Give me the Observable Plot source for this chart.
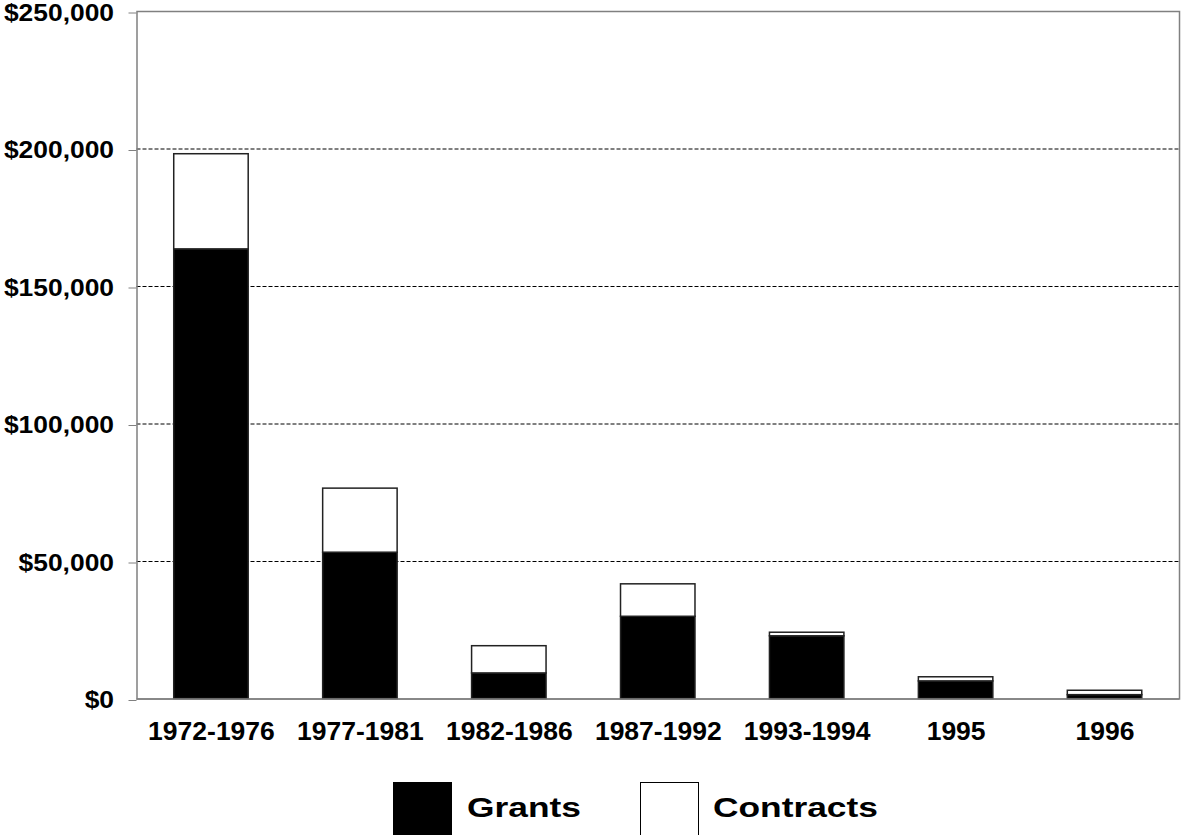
<!DOCTYPE html>
<html>
<head>
<meta charset="utf-8">
<script src="https://cdn.jsdelivr.net/npm/d3@7"></script>
<script src="https://cdn.jsdelivr.net/npm/@observablehq/plot@0.6"></script>
<style>
  html, body { margin: 0; padding: 0; background: #fff; overflow: hidden; }
  body { width: 1181px; height: 835px; font-family: "Liberation Sans", Arial, sans-serif; font-weight: bold; }
  #legend { position: relative; width: 1181px; height: 65px; }
  .sw { position: absolute; top: 12px; width: 59px; height: 59px; box-sizing: border-box; }
  .lt { position: absolute; top: 22px; font-size: 28.5px; line-height: 30px; color: #000; transform: scaleX(1.24); transform-origin: left center; white-space: nowrap; }
</style>
</head>
<body>
<div id="chart"></div>
<div id="legend">
  <div class="sw" style="left:393px; background:#000;"></div>
  <div class="lt" style="left:467px;">Grants</div>
  <div class="sw" style="left:640px; background:#fff; border:1px solid #000;"></div>
  <div class="lt" style="left:713px;">Contracts</div>
</div>
<script>
const periods = ["1972-1976", "1977-1981", "1982-1986", "1987-1992", "1993-1994", "1995", "1996"];
const grants = [163500, 53200, 9300, 29900, 22800, 6400, 1400];
const contracts = [34600, 23300, 9900, 11800, 1300, 1500, 1600];
const seriesNames = ["Grants", "Contracts"];
const yTicks = [0, 50000, 100000, 150000, 200000, 250000];
const gridTicks = [50000, 100000, 150000, 200000];

const table = [];
periods.forEach((p, i) => {
  table.push({period: p, series: "Grants", value: grants[i]});
  table.push({period: p, series: "Contracts", value: contracts[i]});
});

const fmt = d3.format("$,");

const chart = Plot.plot({
  width: 1181,
  height: 770,
  marginLeft: 136.5,
  marginRight: 2,
  marginTop: 11,
  marginBottom: 71.5,
  style: {fontFamily: "'Liberation Sans', Arial, sans-serif", fontWeight: "bold", fontSize: "26.5px", color: "#000", background: "#fff"},
  x: {domain: periods, paddingInner: 0.5, paddingOuter: 0.25, round: false, label: null},
  y: {domain: [0, 250000], label: null},
  color: {domain: seriesNames, range: ["#000", "#fff"]},
  marks: [
    Plot.gridY(gridTicks, {stroke: "#000", strokeOpacity: 1, strokeDasharray: "4,2", strokeWidth: 1}),
    Plot.frame({stroke: "#808080", strokeWidth: 1.5}),
    Plot.axisY(yTicks, {tickFormat: fmt, tickSize: 8, tickPadding: 15, stroke: "#808080", label: null, fontSize: 24, fontWeight: "bold", dy: 1.5}),
    Plot.axisX({tickSize: 0, tickPadding: 22, label: null, fontSize: 26.5, fontWeight: "bold"}),
    Plot.barY(table, {x: "period", y: "value", fill: "series", stroke: "#222", strokeWidth: 1.5}),
    Plot.ruleY([0], {stroke: "#808080", strokeWidth: 1.5}),
    Plot.axisY({ticks: [], line: true, stroke: "#000", strokeWidth: 1.5, label: null, tickSize: 0})
  ]
});
document.getElementById("chart").appendChild(chart);

// stretch the y tick labels horizontally around their right edge (the reference font is wide)
chart.querySelectorAll('g[aria-label="y-axis tick label"] text').forEach(t => {
  const b = t.getBBox();
  const r = b.x + b.width;
  const prev = t.getAttribute("transform") || "";
  t.setAttribute("transform", `${prev} translate(${r},0) scale(1.1,1) translate(${-r},0)`);
});
</script>
</body>
</html>
